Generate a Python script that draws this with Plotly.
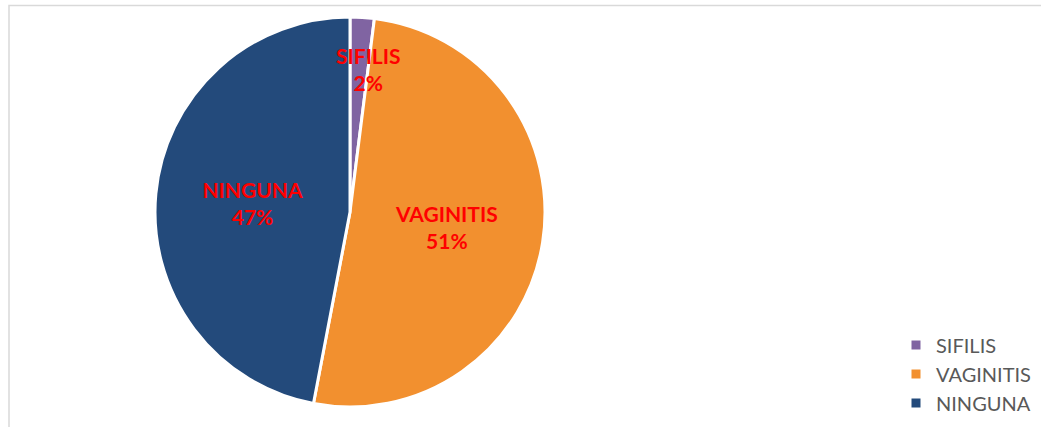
import math
import plotly.graph_objects as go

labels = ["SIFILIS", "VAGINITIS", "NINGUNA"]
values = [2, 51, 47]
colors = ["#8064A2", "#F2902F", "#234A7B"]

W, H = 1041, 427
# pie placement (pixels)
cx, cy, R = 350, 212, 195
dom_x = [(cx - R) / W, (cx + R) / W]
dom_y = [(H - (cy + R)) / H, (H - (cy - R)) / H]

total = sum(values)
pct = [v / total for v in values]

lab_font = dict(family="Lato", size=21, color="#FF0000", weight="bold")

fig = go.Figure()
fig.add_trace(go.Pie(
    labels=labels,
    values=values,
    sort=False,
    direction="clockwise",
    rotation=0,
    marker=dict(colors=colors, line=dict(color="white", width=3)),
    text=[f"{l}<br>{p:.0%}" if p > 0.05 else "" for l, p in zip(labels, pct)],
    textinfo="text",
    textposition="inside",
    insidetextorientation="horizontal",
    textfont=lab_font,
    domain=dict(x=dom_x, y=dom_y),
    hoverinfo="label+percent",
))

# label for the thin slice, placed inside the slice near the rim
annotations = []
for l, p, start in zip(labels, pct, [0] + [sum(pct[:i + 1]) for i in range(len(pct) - 1)]):
    if p <= 0.05:
        ang = 2 * math.pi * (start + p)
        r = 0.74 * R
        px = cx + r * math.sin(ang)
        py = cy - r * math.cos(ang)
        annotations.append(dict(
            x=px / W, y=1 - py / H, xref="paper", yref="paper",
            text=f"{l}<br>{p:.0%}", showarrow=False, font=lab_font,
            xanchor="center", yanchor="middle",
        ))

fig.update_layout(
    width=W, height=H,
    margin=dict(l=0, r=0, t=0, b=0),
    paper_bgcolor="white",
    plot_bgcolor="white",
    showlegend=True,
    annotations=annotations,
    legend=dict(
        x=896 / W, xanchor="left",
        y=1 - 374 / H, yanchor="middle",
        font=dict(family="Lato", size=20, color="#595959"),
        bgcolor="rgba(0,0,0,0)",
    ),
    shapes=[dict(
        type="rect", xref="paper", yref="paper",
        x0=9 / W, x1=1.2, y0=-0.2, y1=1 - 5.5 / H,
        line=dict(color="#D9D9D9", width=1.5),
        fillcolor="rgba(0,0,0,0)", layer="below",
    )],
)
fig.write_html(
    "out.html",
    config={"displayModeBar": False},
    post_script="document.body.style.margin='0';document.body.style.overflow='hidden';",
)
